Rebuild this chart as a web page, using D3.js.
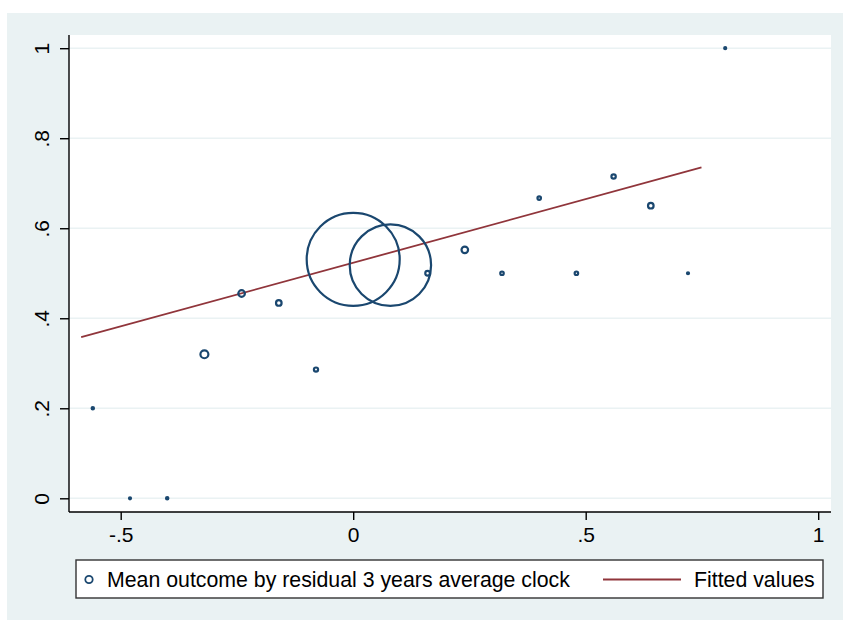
<!DOCTYPE html>
<html>
<head>
<meta charset="utf-8">
<script src="https://cdn.jsdelivr.net/npm/d3@7"></script>
<style>
  body { margin: 0; background: #fff; }
  svg text { font-family: "Liberation Sans", Arial, sans-serif; fill: #000; }
</style>
</head>
<body>
<div id="chart"></div>
<script>
// residual bins (x), mean outcome (y), bin weight (marker area)
const binX = [-0.56, -0.48, -0.40, -0.32, -0.24, -0.16, -0.08, 0, 0.08, 0.16, 0.24, 0.32, 0.40, 0.48, 0.56, 0.64, 0.72, 0.80];
const binY = [0.2, 0, 0, 0.32, 0.455, 0.434, 0.286, 0.531, 0.518, 0.5, 0.552, 0.5, 0.667, 0.5, 0.715, 0.65, 0.5, 1];
const binW = [4, 3, 4, 47, 32, 23, 13, 6400, 4900, 16, 32, 9, 9, 9, 14, 23, 3, 3];
const fitX = [-0.585, 0.749];
const fitY = [0.358, 0.735];
const xTicks = [-0.5, 0, 0.5, 1];
const yTicks = [0, 0.2, 0.4, 0.6, 0.8, 1];
const legendLabels = ['Mean outcome by residual 3 years average clock', 'Fitted values'];

const width = 843, height = 620;
const bg = '#eaf2f3', navy = '#1a476f', maroon = '#90353b';
const plot = { left: 69, right: 831, top: 35, bottom: 512 };

const svg = d3.select('#chart').append('svg')
    .attr('width', width)
    .attr('height', height);

svg.append('rect')
    .attr('x', 7).attr('y', 13)
    .attr('width', width - 7).attr('height', height - 13)
    .attr('fill', bg);

svg.append('rect')
    .attr('x', plot.left).attr('y', plot.top)
    .attr('width', plot.right - plot.left).attr('height', plot.bottom - plot.top)
    .attr('fill', '#fff');

const x = d3.scaleLinear().domain([-0.5, 1]).range([120.7, 818.2]);
const y = d3.scaleLinear().domain([0, 1]).range([498.3, 48.2]);
const r = d3.scaleSqrt().domain([0, 6400]).range([0, 46.5]);

// grid
svg.selectAll('.grid')
    .data(yTicks)
    .enter().append('line')
    .attr('class', 'grid')
    .attr('x1', plot.left).attr('x2', plot.right)
    .attr('y1', d => y(d)).attr('y2', d => y(d))
    .attr('stroke', bg)
    .attr('stroke-width', 1.6);

// axes, stata style labels: 0, .2, -.5
const fmt = d => d === 0 ? '0' : String(d).replace('0.', '.');

const xAxis = svg.append('g')
    .attr('transform', 'translate(0,' + plot.bottom + ')')
    .call(d3.axisBottom(x).tickValues(xTicks).tickSize(8).tickPadding(7).tickFormat(fmt));
xAxis.select('.domain').attr('d', 'M' + plot.left + ',0H' + plot.right);

const yAxis = svg.append('g')
    .attr('transform', 'translate(' + plot.left + ',0)')
    .call(d3.axisLeft(y).tickValues(yTicks).tickSize(9).tickFormat(fmt));
yAxis.select('.domain').attr('d', 'M0,' + plot.top + 'V' + plot.bottom);
yAxis.selectAll('.tick text')
    .attr('x', 0).attr('dy', 0)
    .attr('text-anchor', 'middle')
    .attr('transform', 'translate(-20,0) rotate(-90)');

svg.selectAll('.domain, .tick line')
    .attr('stroke', '#000')
    .attr('stroke-width', 1.4);
svg.selectAll('.tick text')
    .style('font-size', '21px')
    .style('font-family', '"Liberation Sans", Arial, sans-serif');

// fitted line
svg.append('line')
    .attr('x1', x(fitX[0])).attr('y1', y(fitY[0]))
    .attr('x2', x(fitX[1])).attr('y2', y(fitY[1]))
    .attr('stroke', maroon)
    .attr('stroke-width', 1.8);

// weighted markers
svg.selectAll('.bin')
    .data(binX)
    .enter().append('circle')
    .attr('class', 'bin')
    .attr('cx', d => x(d))
    .attr('cy', (d, i) => y(binY[i]))
    .attr('r', (d, i) => r(binW[i]))
    .attr('fill', 'none')
    .attr('stroke', navy)
    .attr('stroke-width', 2.2);

// legend
const lg = svg.append('g');
lg.append('rect')
    .attr('x', 76).attr('y', 560)
    .attr('width', 747).attr('height', 38)
    .attr('fill', '#fff')
    .attr('stroke', '#333')
    .attr('stroke-width', 1.4);
lg.append('circle')
    .attr('cx', 89).attr('cy', 579.5).attr('r', 3.7)
    .attr('fill', 'none').attr('stroke', navy).attr('stroke-width', 1.8);
lg.append('text')
    .attr('x', 107).attr('y', 587)
    .style('font-size', '21.3px')
    .text(legendLabels[0]);
lg.append('line')
    .attr('x1', 603).attr('x2', 681)
    .attr('y1', 579.5).attr('y2', 579.5)
    .attr('stroke', maroon).attr('stroke-width', 1.8);
lg.append('text')
    .attr('x', 694).attr('y', 587)
    .style('font-size', '21.3px')
    .text(legendLabels[1]);
</script>
</body>
</html>
